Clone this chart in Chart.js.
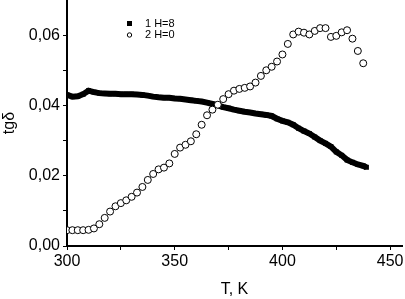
<!DOCTYPE html>
<html>
<head>
<meta charset="utf-8">
<script src="https://cdn.jsdelivr.net/npm/chart.js@4"></script>
<style>
  html, body { margin: 0; padding: 0; background: #fff; }
  #wrap { position: relative; width: 405px; height: 299px; }
</style>
</head>
<body>
<div id="wrap"><canvas id="chart" width="405" height="299"></canvas></div>
<script>
// series 1: H=8 (filled squares)
const temps1 = [300, 302.5, 305, 307.5, 310, 312.5, 315, 317.5, 320, 322.5, 325, 327.5, 330, 332.5, 335, 337.5, 340, 342.5, 345, 347.5,
  350, 352.5, 355, 357.5, 360, 362.5, 365, 367.5, 370, 372.5, 375, 377.5, 380, 382.5, 385, 387.5, 390, 392.5, 395, 397.5,
  400, 402.5, 405, 407.5, 410, 412.5, 415, 417.5, 420, 422.5, 425, 427.5, 430, 432.5, 435, 437.5, 439];
const tg1 = [0.0430, 0.0425, 0.0426, 0.0432, 0.0442, 0.0438, 0.0435, 0.0434, 0.0433, 0.0433, 0.0432, 0.0432, 0.0432, 0.0431, 0.0430, 0.0428, 0.0425, 0.0423, 0.0422, 0.0422,
  0.0420, 0.0419, 0.0417, 0.0415, 0.0413, 0.0411, 0.0408, 0.0404, 0.0400, 0.0395, 0.0392, 0.0388, 0.0385, 0.0382, 0.0380, 0.0377, 0.0375, 0.0373, 0.0370, 0.0362,
  0.0356, 0.0352, 0.0345, 0.0335, 0.0327, 0.0320, 0.0310, 0.0300, 0.0292, 0.0283, 0.0268, 0.0258, 0.0245, 0.0238, 0.0232, 0.0228, 0.0224];

// series 2: H=0 (open circles)
const temps2 = [300, 302.5, 305, 307.5, 310, 312.5, 315, 317.5, 320, 322.5, 325, 327.5, 330, 332.5, 335, 337.5, 340, 342.5, 345, 347.5,
  350, 352.5, 355, 357.5, 360, 362.5, 365, 367.5, 370, 372.5, 375, 377.5, 380, 382.5, 385, 387.5, 390, 392.5, 395, 397.5,
  400, 402.5, 405, 407.5, 410, 412.5, 415, 417.5, 420, 422.5, 425, 427.5, 430, 432.5, 435, 437.5];
const tg2 = [0.0045, 0.0045, 0.0045, 0.0045, 0.0046, 0.0050, 0.0062, 0.0080, 0.0098, 0.0113, 0.0122, 0.0130, 0.0140, 0.0152, 0.0168, 0.0188, 0.0205, 0.0218, 0.0223, 0.0235,
  0.0262, 0.0280, 0.0288, 0.0298, 0.0318, 0.0345, 0.0372, 0.0388, 0.0402, 0.0418, 0.0432, 0.0442, 0.0447, 0.0450, 0.0454, 0.0465, 0.0484, 0.0500, 0.0510, 0.0525,
  0.0545, 0.0575, 0.0602, 0.0610, 0.0607, 0.0602, 0.0612, 0.0620, 0.0620, 0.0595, 0.0598, 0.0608, 0.0614, 0.0590, 0.0555, 0.0520];

const seriesNames = ['1 H=8', '2 H=0'];
const xTicks = [300, 325, 350, 375, 400, 425, 450];
const yTicks = [0, 0.01, 0.02, 0.03, 0.04, 0.05, 0.06];

const FONT = '"Liberation Sans", Arial, sans-serif';

function toPoints(xs, ys) {
  return xs.map((x, i) => ({ x: x, y: ys[i] }));
}

// small legend inside the plot, like the original figure
const insideLegend = {
  id: 'insideLegend',
  afterDraw(chart) {
    const ctx = chart.ctx;
    ctx.save();
    ctx.font = '11px ' + FONT;
    ctx.fillStyle = '#000';
    ctx.textBaseline = 'middle';
    // filled square
    ctx.fillRect(127, 21, 5, 5);
    ctx.fillText(seriesNames[0], 145, 24);
    // open circle
    ctx.beginPath();
    ctx.arc(129.5, 35, 2.2, 0, Math.PI * 2);
    ctx.lineWidth = 1;
    ctx.strokeStyle = '#000';
    ctx.stroke();
    ctx.fillText(seriesNames[1], 145, 35);
    ctx.restore();
  }
};

new Chart(document.getElementById('chart'), {
  type: 'scatter',
  data: {
    datasets: [{
      label: seriesNames[0],
      data: toPoints(temps1, tg1),
      showLine: true,
      borderColor: '#000',
      borderWidth: 6,
      pointStyle: 'rect',
      pointRadius: 3.5,
      backgroundColor: '#000',
      pointBorderWidth: 0,
      order: 1
    }, {
      label: seriesNames[1],
      data: toPoints(temps2, tg2),
      showLine: false,
      pointStyle: 'circle',
      pointRadius: 3.5,
      backgroundColor: '#fff',
      borderColor: '#000',
      pointBorderWidth: 1,
      order: 0
    }]
  },
  options: {
    responsive: false,
    animation: false,
    layout: { autoPadding: false, padding: { top: 0, right: 3, bottom: 0, left: 0 } },
    plugins: {
      legend: { display: false },
      tooltip: { enabled: false }
    },
    scales: {
      x: {
        type: 'linear',
        min: 300,
        max: 455.5,
        afterBuildTicks: s => { s.ticks = xTicks.map(v => ({ value: v })); },
        afterFit: s => { s.height = 53; s.paddingLeft = 0; s.paddingRight = 0; },
        grid: { drawOnChartArea: false, tickLength: 4, tickColor: '#000', tickWidth: 1 },
        border: { color: '#000', width: 2 },
        ticks: {
          color: '#000',
          font: { family: FONT, size: 16 },
          padding: 2,
          maxRotation: 0,
          callback: v => (v % 50 === 0 ? String(v) : '')
        },
        title: {
          display: true,
          text: 'T, K',
          color: '#000',
          font: { family: FONT, size: 16 },
          padding: { top: 8, bottom: 0 }
        }
      },
      y: {
        min: 0,
        max: 0.07,
        afterBuildTicks: s => { s.ticks = yTicks.map(v => ({ value: v })); },
        afterFit: s => { s.width = 67; s.paddingTop = 0; s.paddingBottom = 0; },
        grid: { drawOnChartArea: false, tickLength: 4, tickColor: '#000', tickWidth: 1 },
        border: { color: '#000', width: 2 },
        ticks: {
          color: '#000',
          font: { family: FONT, size: 16 },
          padding: 3,
          callback: v => {
            const k = Math.round(v * 100);
            return k % 2 === 0 ? v.toFixed(2).replace('.', ',') : '';
          }
        },
        title: {
          display: true,
          text: 'tgδ',
          color: '#000',
          font: { family: FONT, size: 16 },
          padding: { top: 0, bottom: 0 }
        }
      }
    }
  },
  plugins: [insideLegend]
});
</script>
</body>
</html>
